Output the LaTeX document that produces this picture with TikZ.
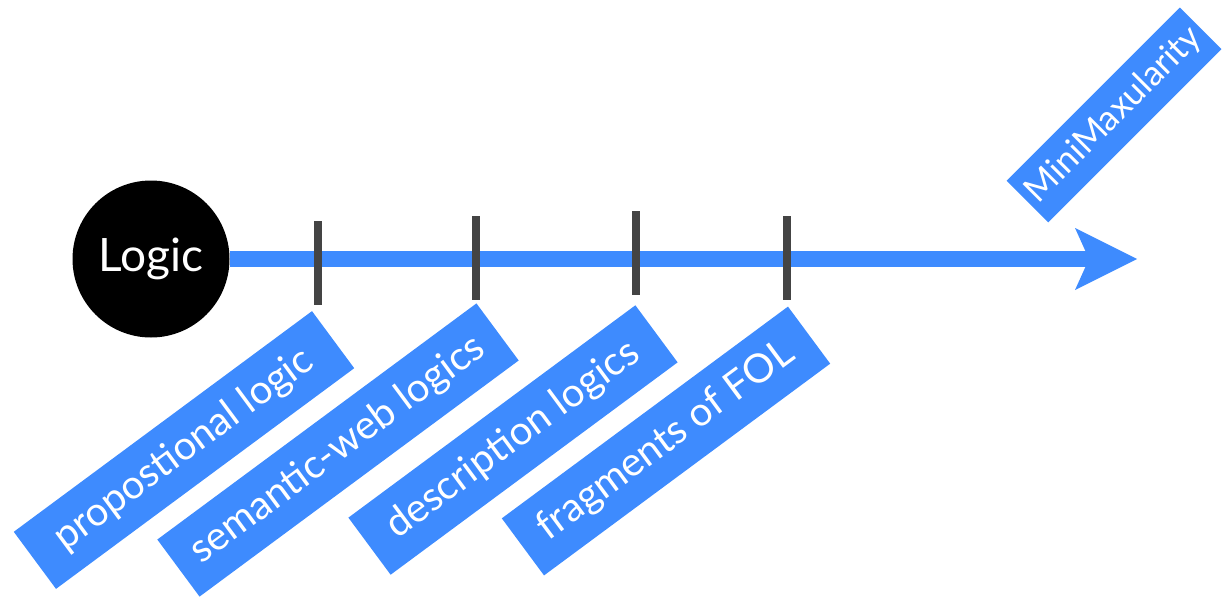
\documentclass[tikz,border=0pt]{standalone}
\usepackage{fontspec}
\setmainfont{Lato}
\usetikzlibrary{arrows.meta}
\definecolor{lblue}{RGB}{62,139,254}
\definecolor{tickgray}{RGB}{68,68,68}
\begin{document}
\begin{tikzpicture}[x=1pt,y=-1pt,
  tagbox/.style={fill=lblue,text=white,inner sep=0pt,minimum height=71pt,
    font=\fontsize{40}{46}\selectfont,rotate=36.5},
  tickmark/.style={fill=tickgray,inner sep=0pt,minimum width=8pt,minimum height=84pt},
  axis/.style={draw=lblue,line width=16pt,
    -{Stealth[length=62pt,width=62pt,inset=14pt,line width=0pt]}}]
\useasboundingbox (0,0) rectangle (1223,602);
\node[circle,fill=black,minimum size=157pt,inner sep=0pt,text=white,
  font=\fontsize{46}{52}\selectfont] (logic) at (151,259) {Logic};
\coordinate (end) at (1137,259);
\draw[axis] (logic.east) -- (end);
\node[tickmark] (t1) at (318,263) {};
\node[tickmark] (t2) at (476,258) {};
\node[tickmark] (t3) at (636,253) {};
\node[tickmark] (t4) at (787,258) {};
\node[tagbox,minimum width=371pt] (l1) at (184,450) {propostional logic};
\node[tagbox,minimum width=397pt] (l2) at (338,450) {semantic-web logics};
\node[tagbox,minimum width=357pt] (l3) at (513,440) {description logics};
\node[tagbox,minimum width=356pt] (l4) at (666,441) {fragments of FOL};
\node[fill=lblue,text=white,inner sep=0pt,minimum height=59pt,minimum width=245pt,
  font=\fontsize{35}{40}\selectfont,rotate=45] (mm) at (1114,115) {MiniMaxularity};
\end{tikzpicture}
\end{document}
